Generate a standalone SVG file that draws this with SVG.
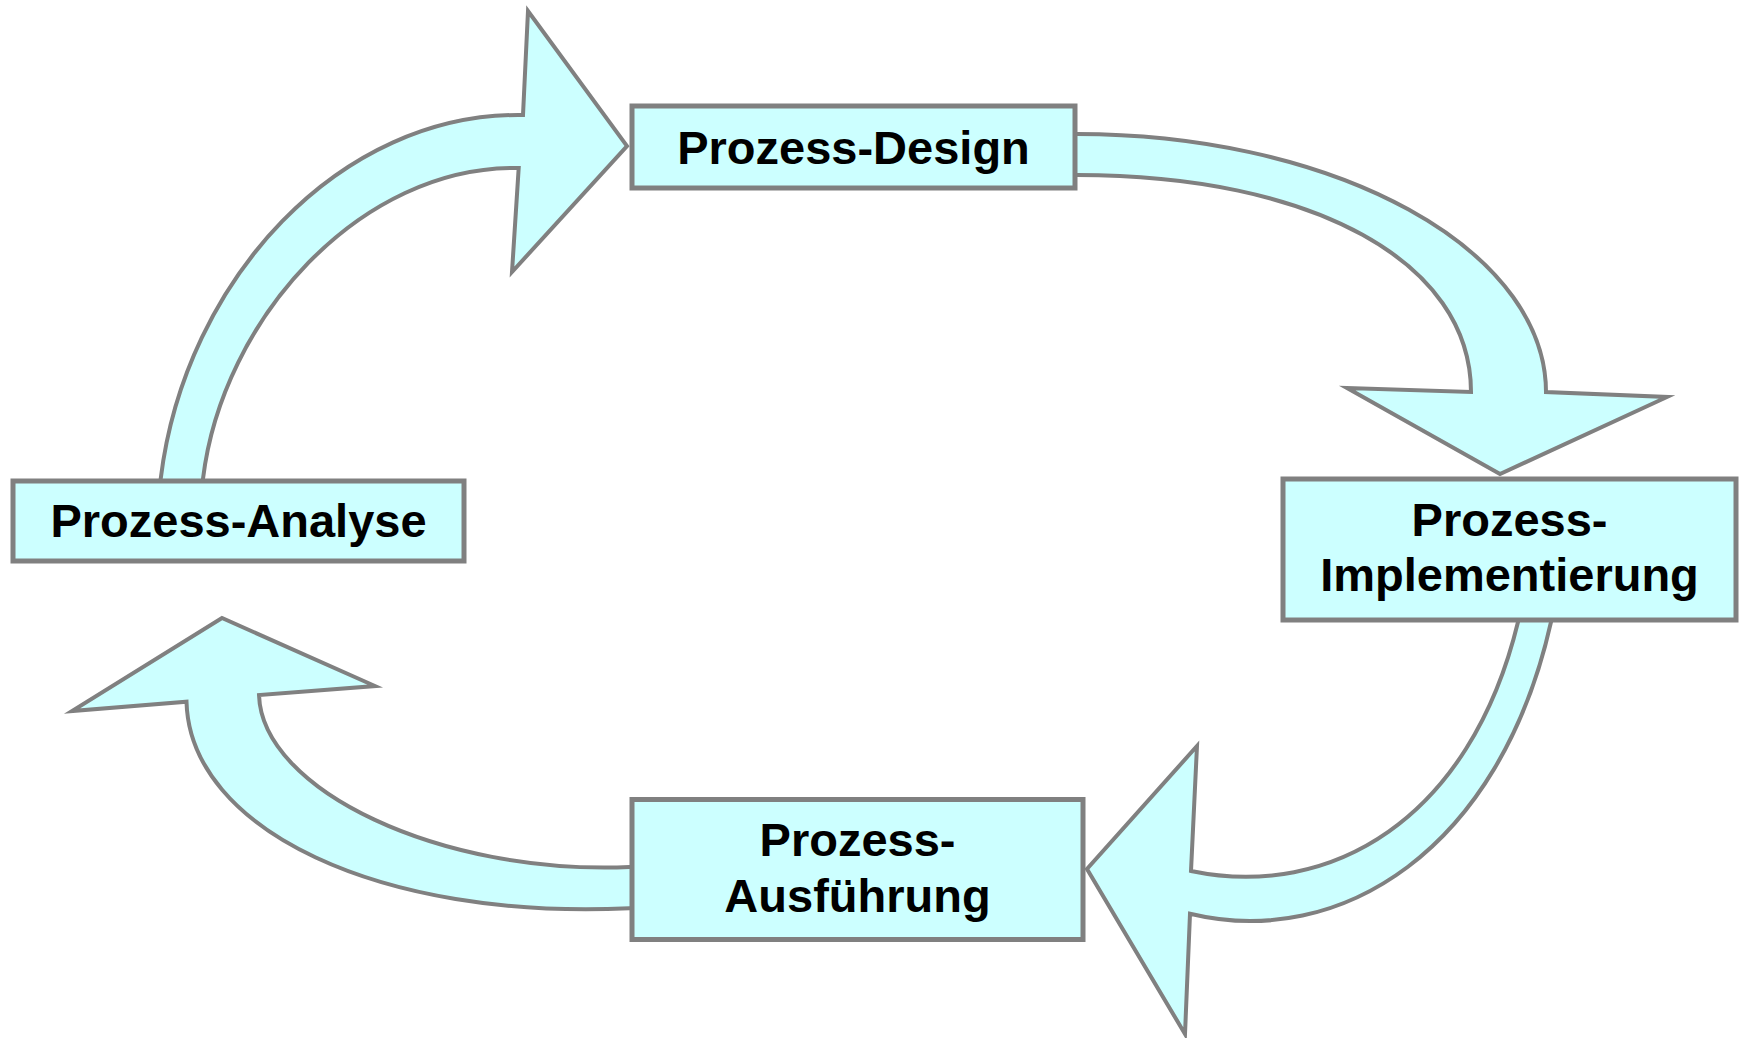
<svg xmlns="http://www.w3.org/2000/svg" width="1741" height="1038" viewBox="0 0 1741 1038">
<style>
.arrow{fill:#CCFFFF;stroke:#808080;stroke-width:4;stroke-linejoin:miter;stroke-miterlimit:10}
.box{fill:#CCFFFF;stroke:#808080;stroke-width:5}
.lbl{font-family:"Liberation Sans",Arial,sans-serif;font-weight:bold;font-size:47px;fill:#000;text-anchor:middle}
</style>
<rect width="1741" height="1038" fill="#fff"/>
<g id="connectors">
<path class="arrow" d="M159.5,490 L160.7,478.8 C185,280 340,112 523,115 L528,11 L627,146 L512,272 L518.7,168 C360,165 222,320 203,478.8 L202,490 Z"/>
<path class="arrow" d="M1068,134 L1077,134 A469,258 0 0 1 1546,392 L1667,397 L1500,474 L1347,388 L1471,392 C1471,262 1313,175 1077,175 L1068,175 Z"/>
<path class="arrow" d="M1520,612 L1518,622 C1470,820 1330,900 1191,871 L1197,746 L1087,869 L1185,1034 L1190,913.8 C1340,950 1500,850 1551,622 L1553,612 Z"/>
<path class="arrow" d="M640,867 L629.6,867 C440,875 262,790 259,695 L375,686 L222,618 L72,711 L186.5,701.7 C190,830 380,920 629.6,908.2 L640,908 Z"/>
</g>
<g id="node-design">
<rect class="box" x="632" y="106" width="443" height="82"/>
<text class="lbl" x="853.5" y="164">Prozess-Design</text>
</g>
<g id="node-analyse">
<rect class="box" x="13" y="481" width="451" height="80"/>
<text class="lbl" x="238.5" y="537">Prozess-Analyse</text>
</g>
<g id="node-implementierung">
<rect class="box" x="1283" y="479" width="453" height="141"/>
<text class="lbl" x="1509.5" y="536">Prozess-</text>
<text class="lbl" x="1509.5" y="591">Implementierung</text>
</g>
<g id="node-ausfuehrung">
<rect class="box" x="632" y="799.5" width="451" height="140"/>
<text class="lbl" x="857.5" y="856">Prozess-</text>
<text class="lbl" x="857.5" y="912">Ausführung</text>
</g>
</svg>
